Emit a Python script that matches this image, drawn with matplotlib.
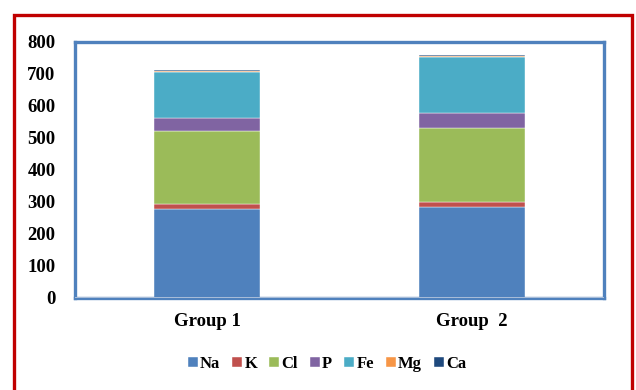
import matplotlib
matplotlib.use('Agg')
import matplotlib.pyplot as plt
from matplotlib.patches import Rectangle

# Mineral content per group (stacked)
groups = ['Group 1', 'Group  2']
elements = ['Na', 'K', 'Cl', 'P', 'Fe', 'Mg', 'Ca']
values = {
    'Na': [279, 283],
    'K':  [16, 18],
    'Cl': [227, 231],
    'P':  [40, 45],
    'Fe': [143, 175],
    'Mg': [5, 5],
    'Ca': [1, 1],
}
colors = ['#4F81BD', '#C0504D', '#9BBB59', '#8064A2', '#4BACC6', '#F79646', '#1F497D']
yticks = [0, 100, 200, 300, 400, 500, 600, 700, 800]

plt.rcParams['font.family'] = ['Liberation Serif', 'DejaVu Serif']
plt.rcParams['font.weight'] = 'bold'

fig = plt.figure(figsize=(6.36, 3.9), dpi=100)
W, H = 636, 390
ax = fig.add_axes([75 / W, (H - 298) / H, 529 / W, 256 / H])

x = [0, 1]
bottom = [0, 0]
for el, c in zip(elements, colors):
    v = values[el]
    ax.bar(x, v, bottom=bottom, width=0.4, color=c, label=el,
           edgecolor='white', linewidth=0.3)
    bottom = [b + vi for b, vi in zip(bottom, v)]

ax.set_xlim(-0.5, 1.5)
ax.set_ylim(0, 800)
ax.set_yticks(yticks)
ax.set_yticklabels([str(t) for t in yticks], fontsize=13.5, fontweight='bold')
ax.set_xticks(x)
ax.set_xticklabels(groups, fontsize=13.5, fontweight='bold')
ax.tick_params(axis='y', length=0, pad=14)
ax.tick_params(axis='x', length=0, pad=11)
for s in ax.spines.values():
    s.set_color('#4F81BD')
    s.set_linewidth(2.4)
ax.axhline(0, color='#B9C9DE', lw=1.2, zorder=5)

leg = fig.legend(loc='center', bbox_to_anchor=(327 / W, (H - 364) / H), ncol=7,
                 frameon=False, handlelength=0.6, handleheight=0.6,
                 handletextpad=0.15, columnspacing=0.7,
                 prop={'weight': 'bold', 'size': 12})

# outer red frame
fig.patches.append(Rectangle((14.5 / W, -0.05), (632 - 14.5) / W, (H - 15) / H + 0.05,
                             transform=fig.transFigure, fill=False,
                             edgecolor='#C00000', linewidth=2.4))

fig.savefig('out.png', dpi=100)
